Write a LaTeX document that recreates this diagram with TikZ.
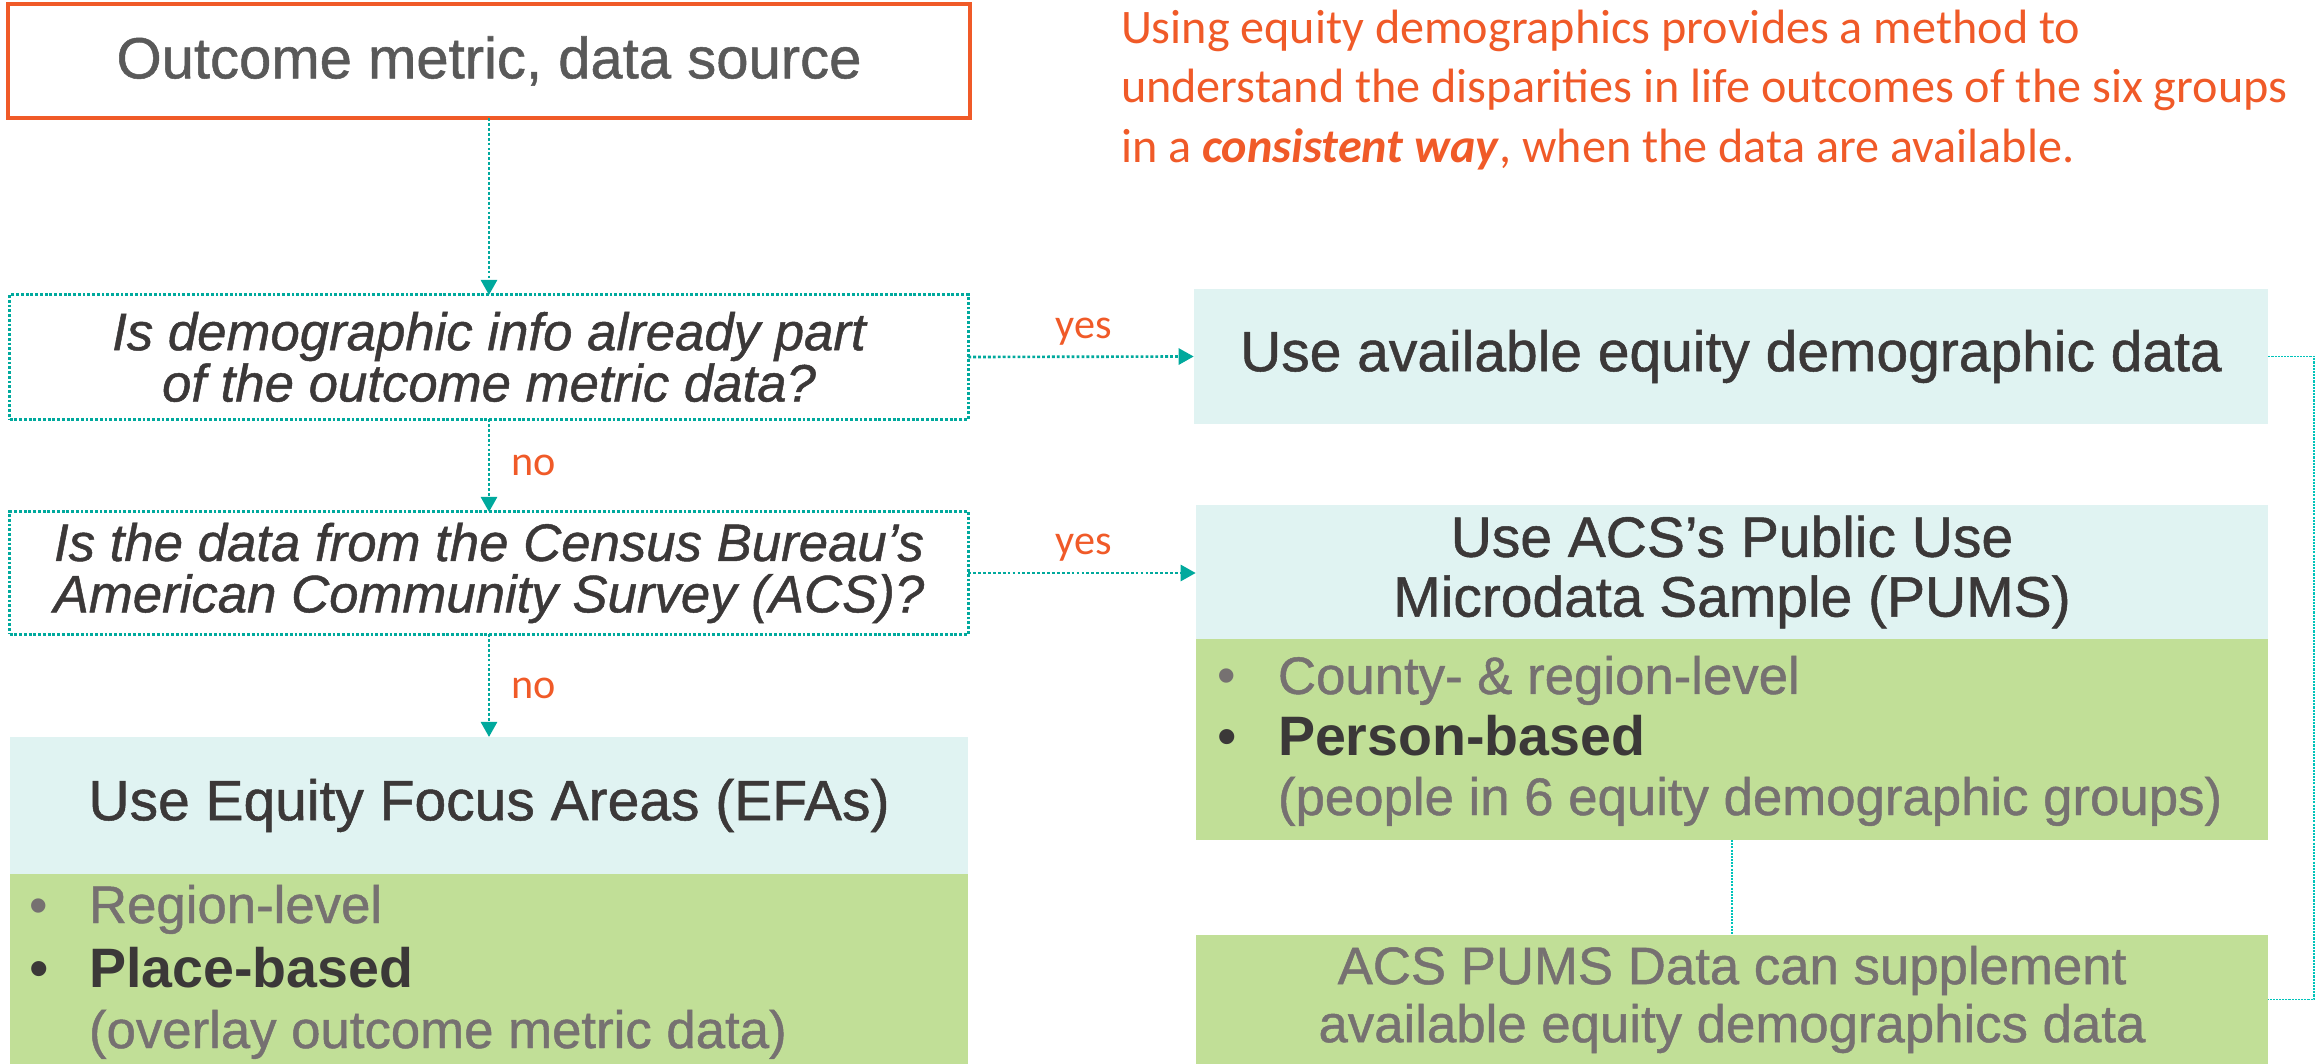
\documentclass[tikz,border=0pt]{standalone}
\usepackage{fontspec}
\setmainfont{Liberation Sans}
\newfontfamily\medsans[FakeBold=0.9]{Liberation Sans}
\newfontfamily\calib{Carlito}
\usetikzlibrary{arrows.meta}
\definecolor{orng}{HTML}{F05A28}
\definecolor{teal1}{HTML}{00A99D}
\definecolor{cyanfill}{HTML}{E0F3F2}
\definecolor{greenfill}{HTML}{C1DF97}
\definecolor{darktxt}{HTML}{3B3838}
\definecolor{graytxt}{HTML}{767171}
\definecolor{headtxt}{HTML}{595959}
\begin{document}
\begin{tikzpicture}[x=0.01cm,y=-0.01cm,
  every node/.style={inner sep=0pt, outer sep=0pt},
  srcbox/.style={draw=orng, line width=1.2pt, text=headtxt, font=\medsans\fontsize{16.5}{19}\selectfont},
  decbox/.style={draw=teal1, line width=0.85pt, dash pattern=on 0.8pt off 0.55pt, text=darktxt, align=center,
     font=\medsans\fontsize{15}{14.6}\selectfont\itshape},
  titlebox/.style={fill=cyanfill, text=darktxt, align=center, font=\medsans\fontsize{16.2}{17}\selectfont},
  greenbox/.style={fill=greenfill},
  supptext/.style={text=graytxt, align=center, font=\medsans\fontsize{15}{16.5}\selectfont},
  graytext/.style={anchor=base west, text=graytxt, font=\medsans\fontsize{15}{18}\selectfont},
  boldtext/.style={anchor=base west, text=darktxt, font=\fontsize{15.8}{18}\selectfont\bfseries},
  graydot/.style={anchor=base west, text=graytxt, font=\fontsize{15}{18}\selectfont},
  darkdot/.style={anchor=base west, text=darktxt, font=\fontsize{15.8}{18}\selectfont},
  redtext/.style={anchor=base west, text=orng, font=\calib\fontsize{13.7}{17}\selectfont},
  answer/.style={text=orng, font=\calib\fontsize{12}{14}\selectfont},
  flowarrow/.style={teal1, line width=0.75pt, dash pattern=on 0.8pt off 0.6pt,
     -{Triangle[length=4.3pt,width=4.6pt]}},
  thinlink/.style={teal1!70!cyan, line width=0.3pt, dash pattern=on 0.6pt off 0.3pt}
]
\useasboundingbox (0,0) rectangle (2323,1064);

% left column
\node[srcbox, minimum width=9.62cm, minimum height=1.14cm] (src) at (489,61) {Outcome metric, data source};
\node[decbox, minimum width=9.58cm, minimum height=1.24cm] (dec1) at (489,357)
  {Is demographic info already part\\of the outcome metric data?};
\node[decbox, minimum width=9.58cm, minimum height=1.22cm] (dec2) at (489,573)
  {Is the data from the Census Bureau’s\\American Community Survey (ACS)?};
\node[titlebox, minimum width=9.58cm, minimum height=1.37cm] (efa) at (489,805.5) {Use Equity Focus Areas (EFAs)};
\node[greenbox, minimum width=9.58cm, minimum height=1.90cm] (efag) at (489,969) {};

\node[graydot] (efab1) at (30,923) {•};
\node[graytext] (efat1) at (89,923) {Region-level};
\node[darkdot] (efab2) at (30,987) {•};
\node[boldtext] (efat2) at (89,987) {Place-based};
\node[graytext] (efat3) at (89,1048) {(overlay outcome metric data)};

% right column
\node[titlebox, minimum width=10.74cm, minimum height=1.35cm] (avail) at (1731,356.5) {Use available equity demographic data};
\node[titlebox, minimum width=10.72cm, minimum height=1.34cm] (pums) at (1732,572)
  {Use ACS’s Public Use\\Microdata Sample (PUMS)};
\node[greenbox, minimum width=10.72cm, minimum height=2.01cm] (pumsg) at (1732,739.5) {};
\node[graydot] (pb1) at (1217,694) {•};
\node[graytext] (pt1) at (1278,694) {County- \& region-level};
\node[darkdot] (pb2) at (1217,755) {•};
\node[boldtext] (pt2) at (1278,755) {Person-based};
\node[graytext] (pt3) at (1278,815) {(people in 6 equity demographic groups)};

\node[greenbox, supptext, minimum width=10.72cm, minimum height=1.29cm] (supp) at (1732,999.5)
  {ACS PUMS Data can supplement\\available equity demographics data};

% red paragraph
\node[redtext] (r1) at (1121,44) {Using equity demographics provides a method to};
\node[redtext] (r2) at (1121,103) {understand the disparities in life outcomes of the six groups};
\node[redtext] (r3) at (1121,163) {in a \textbf{\textit{consistent way}}, when the data are available.};

% connectors
\draw[flowarrow] (src.south) -- (dec1.north);
\draw[flowarrow] (dec1.south) -- (dec2.north);
\draw[flowarrow] (dec2.south) -- (efa.north);
\draw[flowarrow] (dec1.east) -- (avail.west);
\draw[flowarrow] (dec2.east) -- (dec2.east -| pums.west);
\draw[thinlink] (pumsg.south) -- (supp.north);
\coordinate (corner) at (2314,356.5);
\draw[thinlink] (avail.east) -- (corner) |- (supp.east);

% labels
\node[answer] (yes1) at (1084,332) {yes};
\node[answer] (yes2) at (1084,548) {yes};
\node[answer] (no1) at (534,465) {no};
\node[answer] (no2) at (534,688) {no};
\end{tikzpicture}
\end{document}
